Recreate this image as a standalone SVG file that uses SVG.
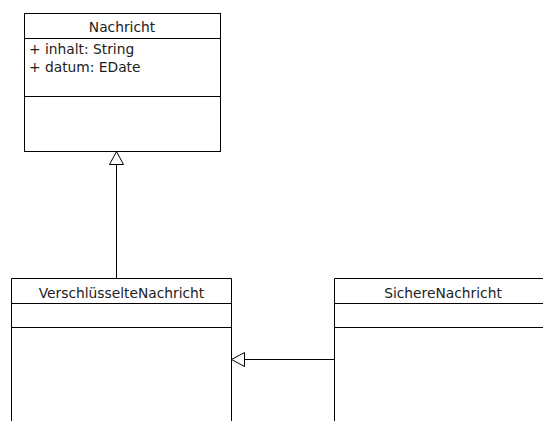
<svg xmlns="http://www.w3.org/2000/svg" width="543" height="421" viewBox="0 0 543 421">
<style>
.box{fill:#fff;stroke:#000;stroke-width:1}
.sep{stroke:#000;stroke-width:1}
.t{font-family:"DejaVu Sans",sans-serif;font-size:13.8px;fill:#222}
.c{text-anchor:middle}
.conn{stroke:#000;stroke-width:1;fill:none}
.tri{fill:#fff;stroke:#000;stroke-width:1}
</style>
<rect width="543" height="421" fill="#fff"/>
<g id="Nachricht">
<rect class="box" x="24.5" y="13.5" width="196" height="138"/>
<line class="sep" x1="24.5" y1="38.5" x2="220.5" y2="38.5"/>
<line class="sep" x1="24.5" y1="96.5" x2="220.5" y2="96.5"/>
<text class="t c" x="122" y="32">Nachricht</text>
<text class="t" x="29" y="54">+ inhalt: String</text>
<text class="t" x="29" y="72">+ datum: EDate</text>
</g>
<g id="VerschluesselteNachricht">
<path class="box" d="M11.5 430 V278.5 H231.5 V430"/>
<line class="sep" x1="11.5" y1="303.5" x2="231.5" y2="303.5"/>
<line class="sep" x1="11.5" y1="327.5" x2="231.5" y2="327.5"/>
<text class="t c" x="121.5" y="298">VerschlüsselteNachricht</text>
</g>
<g id="SichereNachricht">
<path class="box" d="M334.5 430 V278.5 H560"/>
<line class="sep" x1="334.5" y1="303.5" x2="560" y2="303.5"/>
<line class="sep" x1="334.5" y1="327.5" x2="560" y2="327.5"/>
<text class="t c" x="443" y="298">SichereNachricht</text>
</g>
<g id="connectors">
<line class="conn" x1="116.5" y1="278" x2="116.5" y2="164.5"/>
<polygon class="tri" points="116.5,151.5 109.5,164.5 123.5,164.5"/>
<line class="conn" x1="334" y1="359.5" x2="244.5" y2="359.5"/>
<polygon class="tri" points="231.5,359.5 244.5,352.5 244.5,366.5"/>
</g>
</svg>
